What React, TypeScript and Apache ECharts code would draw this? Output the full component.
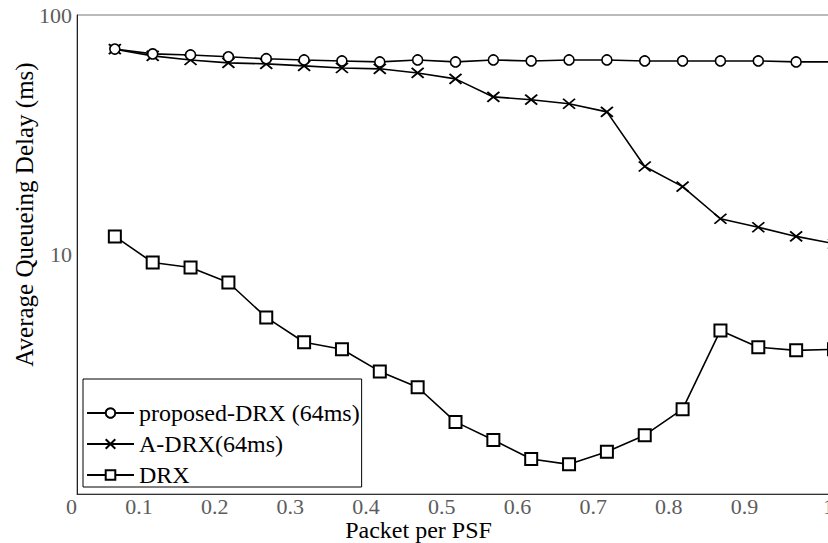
import React, { useEffect, useRef } from "react";
import * as echarts from "echarts";

const packetPerPSF = [0.05, 0.1, 0.15, 0.2, 0.25, 0.3, 0.35, 0.4, 0.45, 0.5, 0.55, 0.6, 0.65, 0.7, 0.75, 0.8, 0.85, 0.9, 0.95, 1.0];
const proposedDRX = [72.1, 68.8, 68.1, 66.9, 65.7, 64.9, 64.3, 63.7, 64.9, 63.7, 64.9, 64.3, 64.9, 64.9, 64.3, 64.3, 64.3, 64.3, 63.7, 63.7];
const aDRX = [72.0, 67.5, 64.9, 63.1, 62.5, 61.3, 60.1, 59.6, 57.3, 54.1, 45.5, 44.3, 42.6, 39.4, 23.3, 19.2, 14.1, 13.0, 11.9, 11.1];
const DRX = [11.9, 9.26, 8.83, 7.64, 5.46, 4.3, 4.02, 3.25, 2.79, 2.0, 1.68, 1.4, 1.33, 1.5, 1.76, 2.26, 4.82, 4.1, 3.98, 4.02];
const seriesNames = ["proposed-DRX (64ms)", "A-DRX(64ms)", "DRX"];

const FONT = "Liberation Serif";

export default function App() {
  const ref = useRef<HTMLDivElement>(null);
  useEffect(() => {
    if (!ref.current) return;
    const chart = echarts.init(ref.current, undefined, { renderer: "svg" });
    const pair = (ys: number[]) => packetPerPSF.map((x, i) => [x, ys[i]]);
    const lineStyle = { color: "#000", width: 1.6 };
    chart.setOption({
      animation: false,
      backgroundColor: "#fff",
      textStyle: { fontFamily: FONT },
      grid: {
        left: 77,
        top: 15,
        right: -6,
        bottom: 49,
        containLabel: false,
        outerBoundsMode: "none",
        show: true,
        borderColor: "#777",
        borderWidth: 1,
      },
      xAxis: {
        type: "value",
        min: 0,
        max: 1,
        interval: 0.1,
        name: "Packet per PSF",
        nameLocation: "middle",
        nameGap: 25,
        nameMoveOverlap: false,
        nameTextStyle: { fontFamily: FONT, fontSize: 24, color: "#000", lineHeight: 22, padding: [0, 74, 0, 0] },
        axisLine: { show: true, lineStyle: { color: "#333", width: 1 } },
        axisTick: { show: false },
        splitLine: { show: false },
        axisLabel: {
          align: "right",
          margin: 2,
          fontFamily: FONT,
          fontSize: 22,
          lineHeight: 20,
          color: "#5c5c5c",
          hideOverlap: false,
          formatter: (v: number) => (v === 0 ? "0" : v === 1 ? "1" : v.toFixed(1)),
        },
      },
      yAxis: {
        type: "log",
        logBase: 10,
        min: 1,
        max: 100,
        name: "Average Queueing Delay (ms)",
        nameLocation: "middle",
        nameGap: 40,
        nameMoveOverlap: false,
        nameTextStyle: { fontFamily: FONT, fontSize: 25, color: "#000", padding: [0, 0, 0, 80] },
        axisLine: { show: true, lineStyle: { color: "#222", width: 1 } },
        axisTick: { show: false },
        splitLine: { show: false },
        axisLabel: {
          margin: 5,
          fontFamily: FONT,
          fontSize: 22,
          color: "#5c5c5c",
          formatter: (v: number) => (v <= 1.0001 ? "" : String(Math.round(v))),
        },
      },
      legend: {
        orient: "vertical",
        left: 83,
        top: 379,
        padding: [22, 2, 0, 3],
        itemGap: 7,
        itemWidth: 47,
        itemHeight: 12,
        borderColor: "#000",
        borderWidth: 1,
        backgroundColor: "#fff",
        textStyle: { fontFamily: FONT, fontSize: 24, color: "#000", lineHeight: 24 },
        data: seriesNames,
      },
      series: [
        {
          name: seriesNames[2],
          type: "line",
          data: pair(DRX),
          symbol: "rect",
          symbolSize: 12,
          lineStyle,
          itemStyle: { color: "#fff", borderColor: "#000", borderWidth: 2 },
          z: 2,
        },
        {
          name: seriesNames[1],
          type: "line",
          data: pair(aDRX),
          symbol: "path://M0,0L10,8M10,0L0,8",
          symbolSize: [12, 10],
          lineStyle,
          itemStyle: { color: "none", borderColor: "#000", borderWidth: 1.8 },
          z: 3,
        },
        {
          name: seriesNames[0],
          type: "line",
          data: pair(proposedDRX),
          symbol: "circle",
          symbolSize: 10,
          lineStyle,
          itemStyle: { color: "#fff", borderColor: "#000", borderWidth: 1.6 },
          z: 4,
        },
      ],
    });
    return () => chart.dispose();
  }, []);
  return <div ref={ref} style={{ width: 828, height: 543, position: "absolute", left: 0, top: 0 }} />;
}
